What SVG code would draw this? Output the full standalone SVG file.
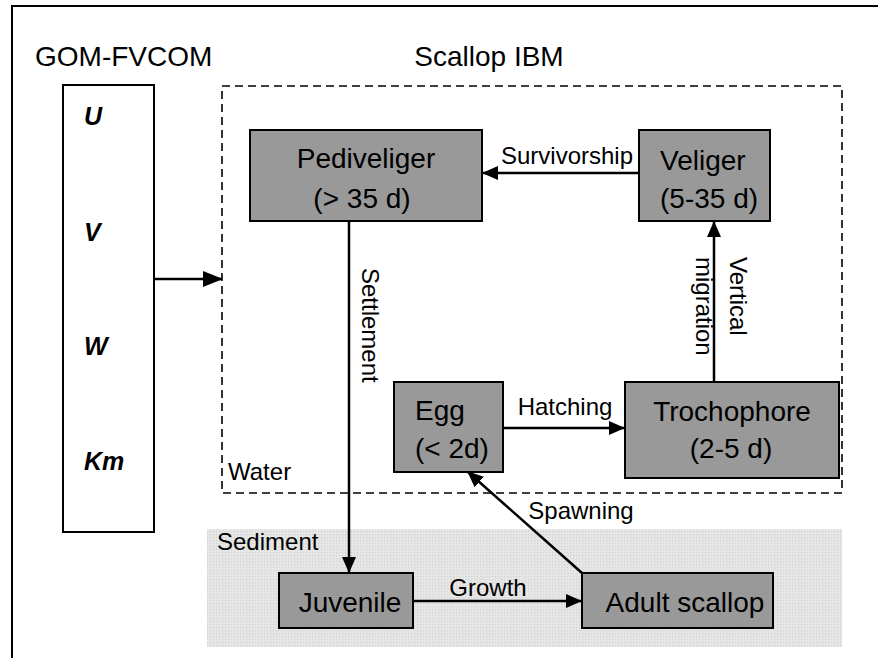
<svg xmlns="http://www.w3.org/2000/svg" width="878" height="658" viewBox="0 0 878 658">
<defs>
<style>
text{font-family:"Liberation Sans",Arial,sans-serif;fill:#000}
.title{font-size:28px}
.box{fill:#999999;stroke:#000;stroke-width:2}
.bt{font-size:28px}
.lbl{font-size:24px}
.var{font-size:25px;font-weight:bold;font-style:italic}
.conn{stroke:#000;stroke-width:2.5;fill:none}
</style>
<marker id="ah" markerUnits="userSpaceOnUse" markerWidth="16" markerHeight="14" refX="15" refY="7" orient="auto">
<path d="M0,0 L16,7 L0,14 Z" fill="#000"/>
</marker>
<marker id="ahb" markerUnits="userSpaceOnUse" markerWidth="20" markerHeight="16" refX="19" refY="8" orient="auto">
<path d="M0,0 L20,8 L0,16 Z" fill="#000"/>
</marker>
<pattern id="dots" width="3" height="3" patternUnits="userSpaceOnUse">
<rect width="3" height="3" fill="#e4e4e4"/>
<rect width="1" height="1" fill="#d2d2d2"/>
<rect x="2" y="2" width="1" height="1" fill="#ececec"/>
</pattern>
</defs>
<rect width="878" height="658" fill="#fff"/>
<rect x="12" y="6" width="900" height="700" fill="none" stroke="#000" stroke-width="2"/>
<g id="sediment">
<rect x="207" y="529" width="635" height="118" fill="url(#dots)"/>
<text class="lbl" x="217" y="550">Sediment</text>
</g>
<g id="gom-fvcom">
<text class="title" x="35" y="66">GOM-FVCOM</text>
<rect x="63" y="85" width="91" height="447" fill="#fff" stroke="#000" stroke-width="2"/>
<text class="var" x="84" y="125">U</text>
<text class="var" x="84" y="241">V</text>
<text class="var" x="84" y="355">W</text>
<text class="var" x="84" y="470">Km</text>
</g>
<g id="water">
<text class="title" x="489" y="66" text-anchor="middle">Scallop IBM</text>
<rect x="222" y="86" width="620" height="407" fill="none" stroke="#000" stroke-width="1.6" stroke-dasharray="8 5"/>
<text class="lbl" x="228" y="480">Water</text>
</g>
<g id="pediveliger">
<rect class="box" x="250" y="130" width="232" height="91"/>
<text class="bt" x="366" y="168" text-anchor="middle">Pediveliger</text>
<text class="bt" x="362" y="208" text-anchor="middle">(&gt; 35 d)</text>
</g>
<g id="veliger">
<rect class="box" x="639" y="130" width="131" height="91"/>
<text class="bt" x="660" y="170">Veliger</text>
<text class="bt" x="660" y="208">(5-35 d)</text>
</g>
<g id="egg">
<rect class="box" x="394" y="382" width="109" height="90"/>
<text class="bt" x="415" y="420">Egg</text>
<text class="bt" x="415" y="458">(&lt; 2d)</text>
</g>
<g id="trochophore">
<rect class="box" x="625" y="382" width="214" height="96"/>
<text class="bt" x="732" y="421" text-anchor="middle">Trochophore</text>
<text class="bt" x="731" y="458" text-anchor="middle">(2-5 d)</text>
</g>
<g id="juvenile">
<rect class="box" x="279" y="573" width="134" height="55"/>
<text class="bt" x="350" y="612" text-anchor="middle">Juvenile</text>
</g>
<g id="adult">
<rect class="box" x="582" y="573" width="191" height="55"/>
<text class="bt" x="685" y="612" text-anchor="middle">Adult scallop</text>
</g>
<g id="connectors">
<line class="conn" x1="154" y1="279" x2="222" y2="279" stroke-width="5" marker-end="url(#ahb)"/>
<line class="conn" x1="639" y1="173" x2="483" y2="173" marker-end="url(#ah)"/>
<text class="lbl" x="567" y="164" text-anchor="middle">Survivorship</text>
<line class="conn" x1="349" y1="221" x2="349" y2="572" marker-end="url(#ah)"/>
<text class="lbl" x="362" y="268" transform="rotate(90 362 268)">Settlement</text>
<line class="conn" x1="714" y1="382" x2="714" y2="222" marker-end="url(#ah)"/>
<text class="lbl" x="730" y="257" transform="rotate(90 730 257)">Vertical</text>
<text class="lbl" x="696" y="257" transform="rotate(90 696 257)">migration</text>
<line class="conn" x1="503" y1="428" x2="624" y2="428" marker-end="url(#ah)"/>
<text class="lbl" x="565" y="415" text-anchor="middle">Hatching</text>
<line class="conn" x1="582" y1="573" x2="468" y2="472" marker-end="url(#ah)"/>
<text class="lbl" x="581" y="519" text-anchor="middle">Spawning</text>
<line class="conn" x1="413" y1="601" x2="581" y2="601" marker-end="url(#ah)"/>
<text class="lbl" x="488" y="596" text-anchor="middle">Growth</text>
</g>
</svg>
